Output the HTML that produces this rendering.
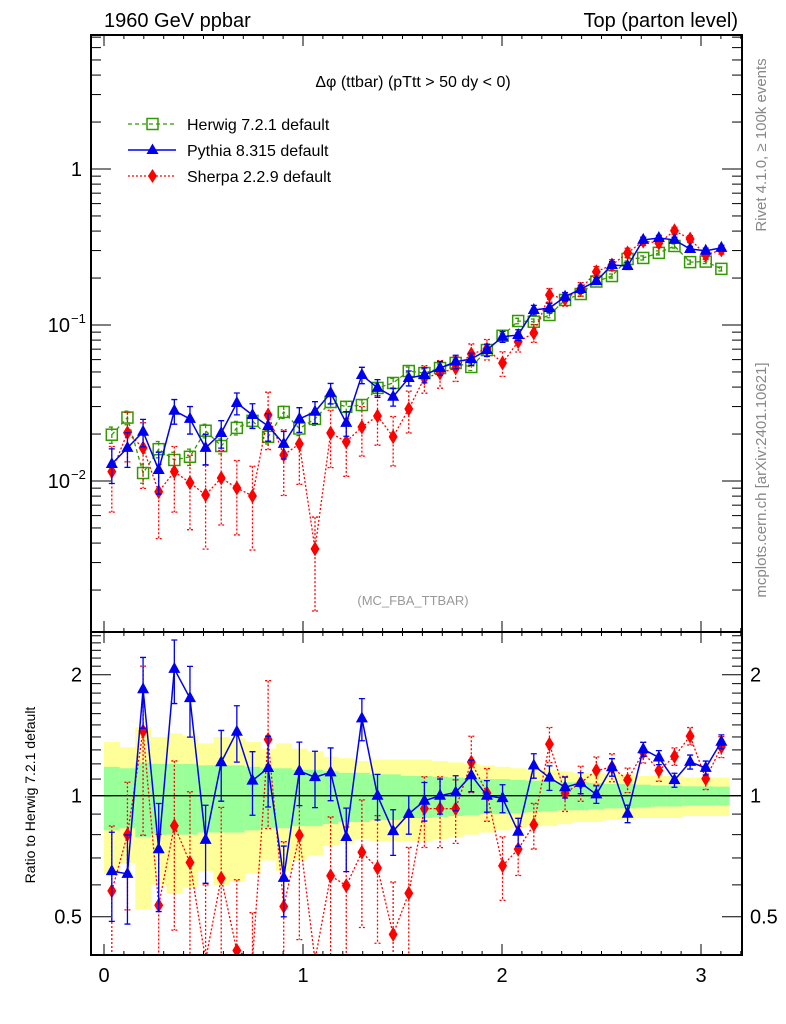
<!DOCTYPE html>
<html><head><meta charset="utf-8"><style>
body{margin:0;background:#fff;overflow:hidden}
svg{display:block}
svg text{font-family:"Liberation Sans",sans-serif}
</style></head><body>
<svg id="c" width="786" height="1024" xmlns="http://www.w3.org/2000/svg">
<defs>
<clipPath id="cm"><rect x="91" y="35" width="651" height="597"/></clipPath>
<clipPath id="cr"><rect x="91" y="632" width="651" height="323"/></clipPath>
</defs>
<rect x="0" y="0" width="786" height="1024" fill="#fff"/>
<g id="bands" clip-path="url(#cr)"></g>
<line x1="91" x2="742" y1="795.7" y2="795.7" stroke="#000" stroke-width="1.3"/>
<g id="mainMarks" clip-path="url(#cm)"></g>
<g id="ratioMarks" clip-path="url(#cr)"></g>
<g id="axes"></g>
<text x="104" y="27" font-size="20">1960 GeV ppbar</text>
<text x="738" y="27" font-size="20" text-anchor="end">Top (parton level)</text>
<text x="413" y="87" font-size="16" text-anchor="middle">Δφ (ttbar) (pTtt &gt; 50 dy &lt; 0)</text>
<text x="413" y="605" font-size="13" fill="#999" text-anchor="middle">(MC_FBA_TTBAR)</text>
<g>
 <g>
  <line x1="128" x2="176" y1="124" y2="124" stroke="#339900" stroke-width="1.3" stroke-dasharray="4,3"/>
  <rect x="147" y="118.5" width="11" height="11" fill="none" stroke="#339900" stroke-width="1.5"/>
  <text x="187" y="130" font-size="16">Herwig 7.2.1 default</text>
 </g>
 <g>
  <line x1="128" x2="176" y1="150" y2="150" stroke="#0000ee" stroke-width="1.5"/>
  <polygon points="152.5,143.5 146.5,154 158.5,154" fill="#0000ee"/>
  <text x="187" y="156" font-size="16">Pythia 8.315 default</text>
 </g>
 <g>
  <line x1="128" x2="176" y1="176" y2="176" stroke="#ff0000" stroke-width="1.3" stroke-dasharray="2,2"/>
  <polygon points="152.5,169 157,176 152.5,183 148,176" fill="#ff0000"/>
  <text x="187" y="182" font-size="16">Sherpa 2.2.9 default</text>
 </g>
</g>
<text transform="translate(766,145) rotate(-90)" font-size="15" fill="#888" text-anchor="middle">Rivet 4.1.0, ≥ 100k events</text>
<text transform="translate(766,480) rotate(-90)" font-size="15" fill="#888" text-anchor="middle">mcplots.cern.ch [arXiv:2401.10621]</text>
<text transform="translate(35,795) rotate(-90)" font-size="14" text-anchor="middle">Ratio to Herwig 7.2.1 default</text>
</svg>
<script>
const herwig=[0.0198,0.0255,0.01125,0.0160,0.01364,0.0143,0.0210,0.01676,0.0219,0.0243,0.0192,0.0277,0.0217,0.0250,0.0321,0.0299,0.0307,0.0395,0.0425,0.0507,0.0492,0.0530,0.0571,0.0538,0.0691,0.0853,0.1061,0.1050,0.1159,0.1446,0.158,0.190,0.206,0.265,0.269,0.290,0.321,0.253,0.255,0.229];
const pythia=[0.01285,0.0163,0.0207,0.01177,0.0282,0.0250,0.0163,0.0203,0.0316,0.0265,0.0225,0.0173,0.0250,0.0278,0.0367,0.0236,0.0478,0.0395,0.0347,0.0457,0.0478,0.0530,0.0582,0.0605,0.0691,0.0841,0.0863,0.1248,0.1285,0.1518,0.170,0.1914,0.2425,0.239,0.351,0.361,0.351,0.307,0.299,0.312];
const sherpa=[0.01148,0.0204,0.0163,0.00854,0.01148,0.00975,0.00813,0.01045,0.00902,0.00802,0.0265,0.01468,0.0173,0.00367,0.0203,0.01786,0.0222,0.0261,0.0192,0.0290,0.0457,0.0492,0.0530,0.0652,0.0702,0.0571,0.0781,0.0889,0.1557,0.1468,0.170,0.2196,0.2425,0.290,0.345,0.335,0.402,0.356,0.281,0.303];
const herErr=[0.12,0.1,0.14,0.12,0.12,0.12,0.1,0.11,0.1,0.1,0.1,0.09,0.1,0.09,0.08,0.08,0.08,0.07,0.07,0.06,0.06,0.06,0.05,0.05,0.05,0.04,0.04,0.04,0.04,0.035,0.035,0.03,0.03,0.03,0.03,0.03,0.03,0.03,0.03,0.03];
const pyErr=[0.25,0.25,0.2,0.3,0.18,0.2,0.22,0.2,0.16,0.18,0.2,0.2,0.18,0.16,0.15,0.18,0.12,0.13,0.13,0.11,0.11,0.1,0.1,0.09,0.09,0.08,0.08,0.07,0.07,0.06,0.06,0.05,0.05,0.05,0.04,0.04,0.04,0.04,0.04,0.04];
const shErr=[0.45,0.35,0.45,0.5,0.45,0.5,0.55,0.5,0.5,0.55,0.4,0.45,0.45,0.6,0.4,0.4,0.35,0.35,0.35,0.3,0.2,0.2,0.18,0.16,0.15,0.18,0.14,0.13,0.1,0.1,0.1,0.08,0.08,0.07,0.06,0.06,0.05,0.05,0.06,0.06];
const bandGreen=[0.18,0.17,0.21,0.2,0.2,0.2,0.19,0.19,0.19,0.18,0.17,0.17,0.16,0.16,0.15,0.14,0.14,0.13,0.13,0.12,0.12,0.115,0.11,0.105,0.1,0.1,0.095,0.09,0.085,0.08,0.08,0.075,0.07,0.07,0.065,0.06,0.06,0.055,0.055,0.053];
const bandYellow=[0.36,0.32,0.48,0.40,0.43,0.41,0.35,0.40,0.39,0.36,0.31,0.35,0.31,0.29,0.25,0.24,0.22,0.23,0.23,0.23,0.23,0.22,0.21,0.2,0.19,0.18,0.17,0.16,0.16,0.15,0.14,0.14,0.13,0.13,0.12,0.12,0.12,0.11,0.11,0.11];
const xTicks=[0,1,2,3];
const NB=40, XMAX=Math.PI;
const NS='http://www.w3.org/2000/svg';
const X=v=>104+199*v;
const YM=v=>169-156*Math.log10(v);
const YR=r=>795.7-121*Math.log2(r);
const bw=XMAX/NB;
const cx=i=>X((i+0.5)*bw);
function mk(tag,attrs,parent){const e=document.createElementNS(NS,tag);for(const k in attrs)e.setAttribute(k,attrs[k]);parent.appendChild(e);return e;}
const bands=document.getElementById('bands');
for(let i=0;i<NB;i++){
  const x0=X(i*bw),x1=X((i+1)*bw);
  const y=mk('rect',{x:x0,y:YR(1+bandYellow[i]),width:x1-x0+0.5,height:YR(1-bandYellow[i])-YR(1+bandYellow[i]),fill:'#ffff99'},bands);
  
  
  const g=mk('rect',{x:x0,y:YR(1+bandGreen[i]),width:x1-x0+0.5,height:YR(1-bandGreen[i])-YR(1+bandGreen[i]),fill:'#99ff99'},bands);
  
  
}
function marker(type,x,y,col,parent){
  let e;
  if(type==='sq') e=mk('rect',{x:x-5.5,y:y-5.5,width:11,height:11,fill:'none',stroke:col,'stroke-width':1.5},parent);
  else if(type==='tri') e=mk('polygon',{points:`${x},${y-7} ${x-6},${y+4} ${x+6},${y+4}`,fill:col},parent);
  else e=mk('polygon',{points:`${x},${y-7.5} ${x+4.5},${y} ${x},${y+7.5} ${x-4.5},${y}`,fill:col},parent);
  return e;
}
function series(vals,errs,yf,col,dash,type,name,parent,lw,ybot){
  const g=mk('g',{},parent);
  
  
  const pts=vals.map((v,i)=>cx(i)+','+Math.min(yf(v),ybot)).join(' ');
  const l=mk('polyline',{points:pts,fill:'none',stroke:col,'stroke-width':lw,'stroke-dasharray':dash},g);
  
  
  vals.forEach((v,i)=>{
    const x=cx(i);const lo=v*(1-errs[i]);const yl=lo>0?Math.min(yf(lo),ybot):ybot;
    const yt=yf(v*(1+errs[i]));
    const b=mk('path',{d:`M${x},${yt}V${yl}M${x-3},${yt}h6M${x-3},${yl}h6`,stroke:col,'stroke-width':1.3,fill:'none','stroke-dasharray':dash},g);
    
    
    const m=marker(type,x,Math.min(yf(v),ybot),col,g);
    
    
  });
}
const mm=document.getElementById('mainMarks');
series(herwig,herErr,YM,'#339900','4,3','sq','herwig-series',mm,1.3,640);
series(sherpa,shErr,YM,'#ff0000','2,2','dia','sherpa-series',mm,1.3,640);
series(pythia,pyErr,YM,'#0000ee','','tri','pythia-series',mm,1.5,640);
const rm=document.getElementById('ratioMarks');
const rSh=sherpa.map((v,i)=>v/herwig[i]);
const rPy=pythia.map((v,i)=>v/herwig[i]);
series(rSh,shErr,YR,'#ff0000','2,2','dia','sherpa-ratio',rm,1.3,960);
series(rPy,pyErr,YR,'#0000ee','','tri','pythia-ratio',rm,1.5,960);
const ax=document.getElementById('axes');
function ln(x1,y1,x2,y2,w,name){const e=mk('line',{x1,y1,x2,y2,stroke:'#000','stroke-width':w||1},ax);return e;}
const fm=mk('rect',{x:91,y:35,width:651,height:597,fill:'none',stroke:'#000','stroke-width':2},ax);


const fr=mk('rect',{x:91,y:632,width:651,height:323,fill:'none',stroke:'#000','stroke-width':2},ax);


for(let k=0;k<=32;k++){const v=k*0.1;const x=X(v);if(x<92||x>741)continue;const maj=k%10===0;const L=maj?11:4;
  ln(x,35,x,35+L,1);ln(x,632,x,632-L,1);ln(x,632,x,632+L,1);ln(x,955,x,955-L,1);}
xTicks.forEach(v=>{const t=mk('text',{x:X(v),y:982,'font-size':20,'text-anchor':'middle'},ax);t.textContent=v;});
for(let d=-3;d<=0;d++){for(let m=1;m<=9;m++){const v=m*Math.pow(10,d);const y=YM(v);if(y<36||y>631)continue;const L=m===1?20:10;ln(91,y,91+L,y,1);ln(742,y,742-L,y,1);}}
[[1,'1'],[0.1,'10'],[0.01,'10']].forEach(([v,s],i)=>{const t=mk('text',{x:i===0?82:70,y:YM(v)+7,'font-size':20,'text-anchor':'end'},ax);t.textContent=s;
 if(i>0){const e=mk('text',{x:71,y:YM(v)-2,'font-size':13},ax);e.textContent=i===1?'−1':'−2';}});
for(let r=0.4;r<=2.55;r+=0.1){const y=YR(r);if(y<633||y>954)continue;const maj=Math.abs(r-0.5)<1e-6||Math.abs(r-1)<1e-6||Math.abs(r-2)<1e-6;const L=maj?20:10;ln(91,y,91+L,y,1);ln(742,y,742-L,y,1);}
[[2,'2'],[1,'1'],[0.5,'0.5']].forEach(([r,s])=>{
 const t=mk('text',{x:82,y:YR(r)+7,'font-size':20,'text-anchor':'end'},ax);t.textContent=s;
 const t2=mk('text',{x:750,y:YR(r)+7,'font-size':20},ax);t2.textContent=s;});
</script>
</body></html>
